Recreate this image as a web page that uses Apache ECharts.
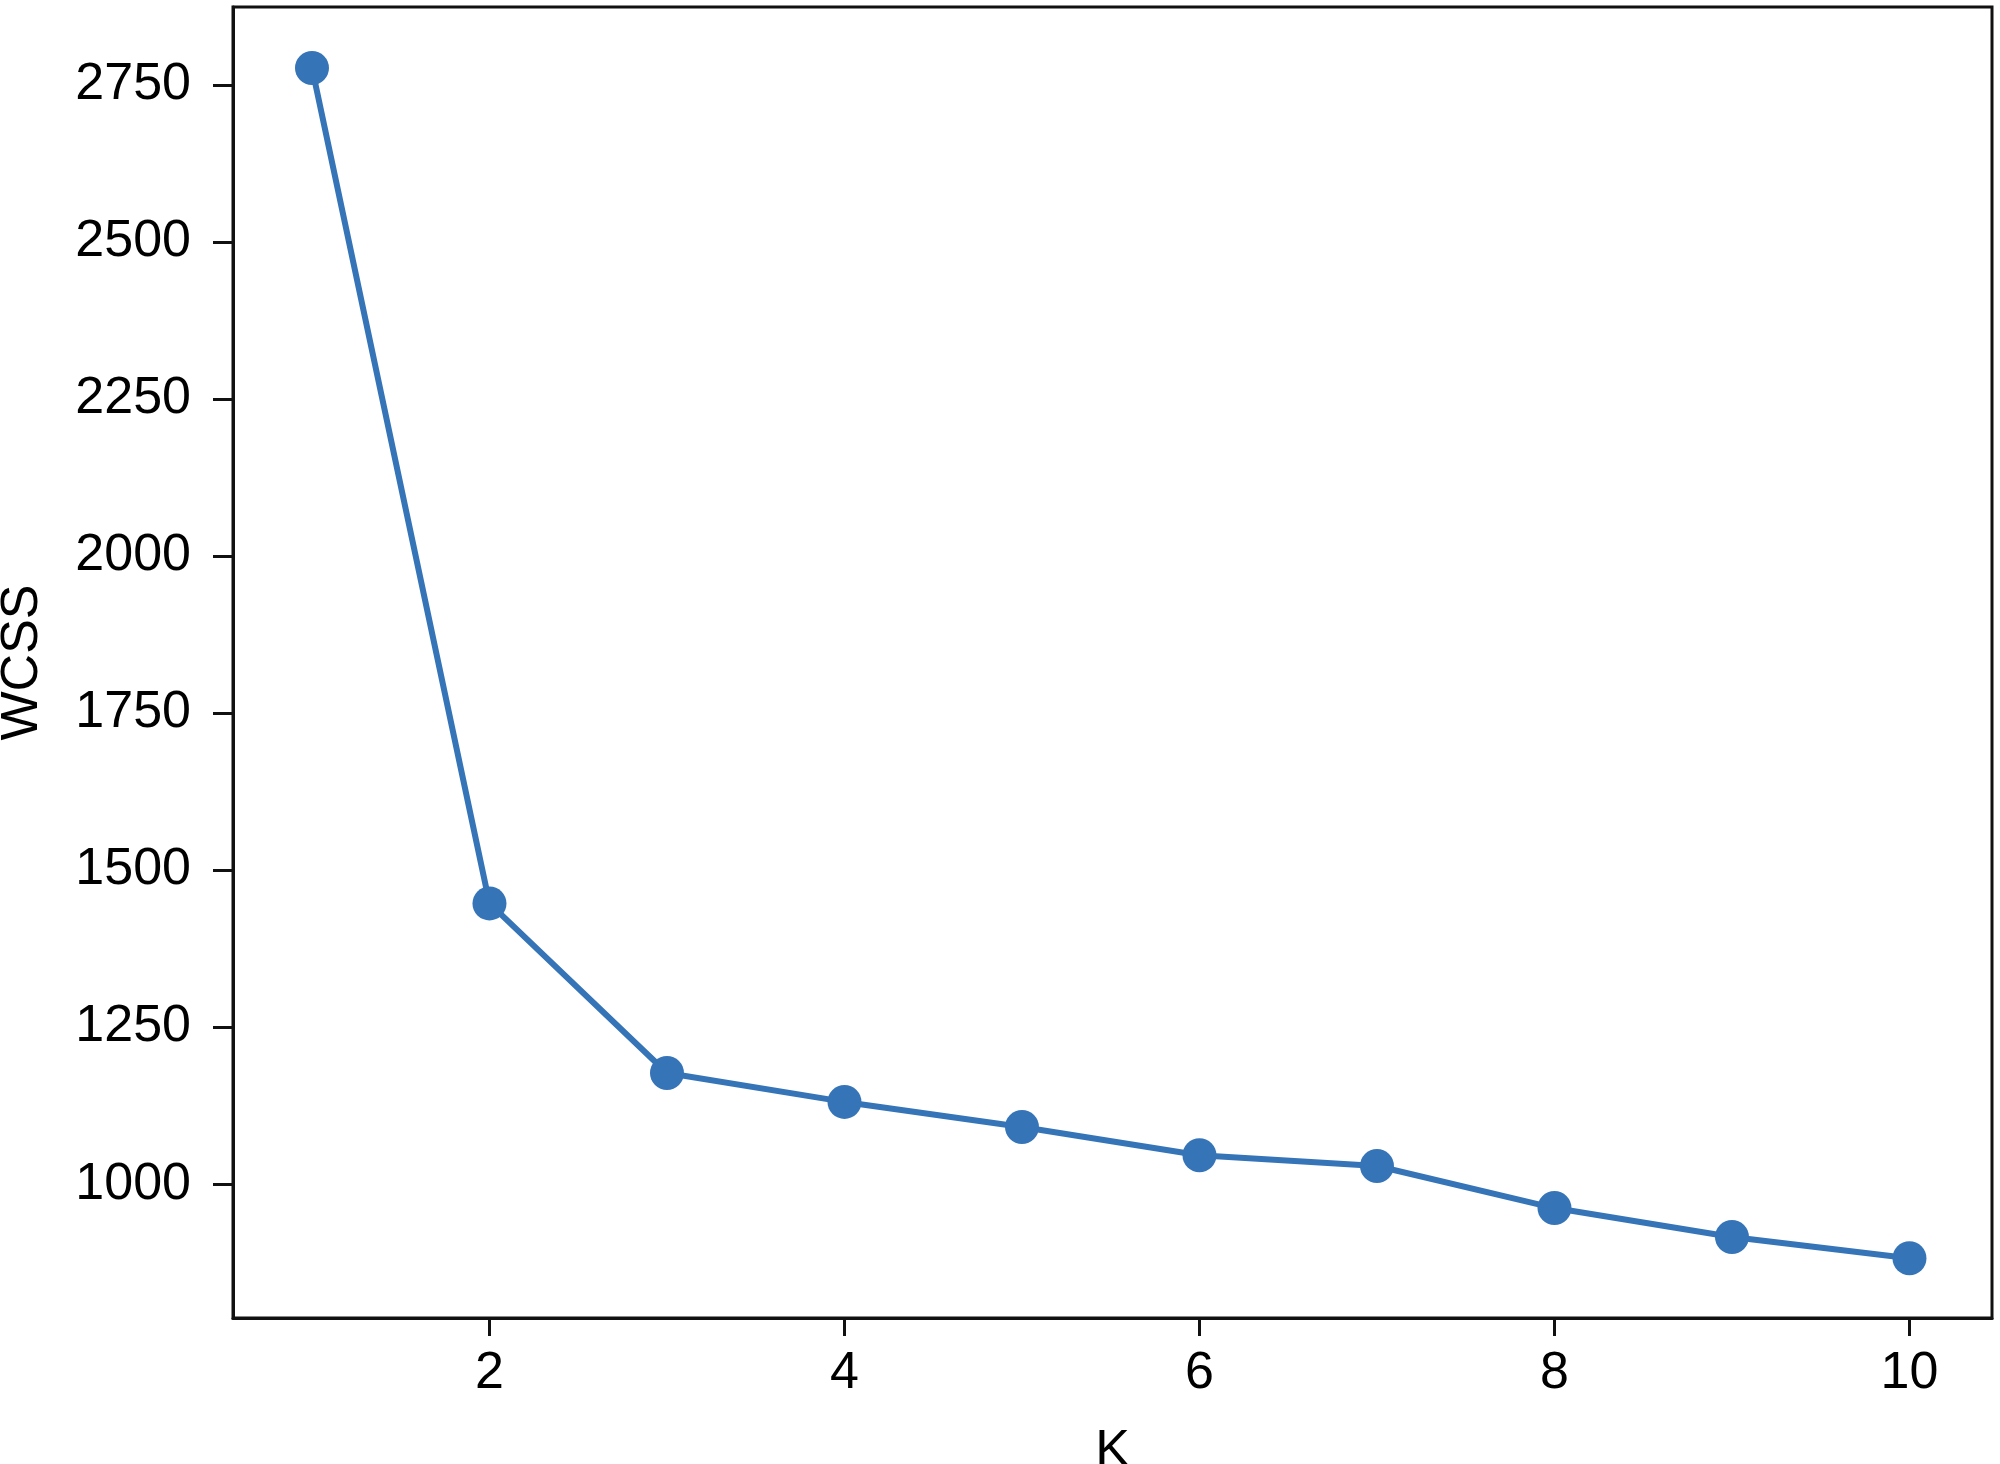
<!DOCTYPE html>
<html>
<head>
<meta charset="utf-8">
<script src="https://cdn.jsdelivr.net/npm/echarts@6/dist/echarts.min.js"></script>
<style>
    html, body {margin: 0; padding: 0; background: #fff;}
    #main {width: 2000px; height: 1464px;}
</style>
</head>
<body>
<div id="main"></div>
<script>
// K values and within-cluster sum of squares
const kValues = [1, 2, 3, 4, 5, 6, 7, 8, 9, 10];
const wcss = [2777, 1447, 1177, 1131, 1091, 1046, 1029, 962, 916, 882];
const xTicks = [2, 4, 6, 8, 10];
const yTicks = [1000, 1250, 1500, 1750, 2000, 2250, 2500, 2750];

function elbowChart(divId) {
    const myChart = echarts.init(document.getElementById(divId));
    const font = 'Liberation Sans, Arial, sans-serif';
    const option = {
        animation: false,
        backgroundColor: '#fff',
        grid: {
            left: 233,
            right: 8,
            top: 7,
            bottom: 146,
            outerBoundsMode: 'none',
            containLabel: false,
            show: true,
            borderColor: '#111',
            borderWidth: 3
        },
        xAxis: {
            type: 'value',
            min: 0.555,
            max: 10.465,
            name: 'K',
            nameLocation: 'middle',
            nameGap: 108,
            nameTextStyle: {color: '#000', fontSize: 52, fontFamily: font},
            splitLine: {show: false},
            axisLine: {show: true, onZero: false, lineStyle: {color: '#111', width: 3}},
            axisTick: {show: true, length: 18, customValues: xTicks, lineStyle: {color: '#111', width: 3}},
            axisLabel: {
                customValues: xTicks, margin: 30, color: '#000', fontSize: 52, fontFamily: font,
                formatter: function (v) { return String(v); }
            }
        },
        yAxis: {
            type: 'value',
            min: 787,
            max: 2874,
            name: 'WCSS',
            nameLocation: 'middle',
            nameGap: 184,
            nameRotate: 90,
            nameTextStyle: {color: '#000', fontSize: 52, fontFamily: font},
            splitLine: {show: false},
            axisLine: {show: true, onZero: false, lineStyle: {color: '#111', width: 3}},
            axisTick: {show: true, length: 20, customValues: yTicks, lineStyle: {color: '#111', width: 3}},
            axisLabel: {
                customValues: yTicks, margin: 42, color: '#000', fontSize: 52, fontFamily: font,
                formatter: function (v) { return String(v); }
            }
        },
        series: [
            {
                type: 'line',
                data: kValues.map(function (k, i) {
                    return [k, wcss[i]];
                }),
                symbol: 'circle',
                symbolSize: 34,
                lineStyle: {color: '#3674b8', width: 6},
                itemStyle: {color: '#3674b8'}
            }
        ]
    };
    myChart.setOption(option);
    return myChart;
}

elbowChart('main');
</script>
</body>
</html>
